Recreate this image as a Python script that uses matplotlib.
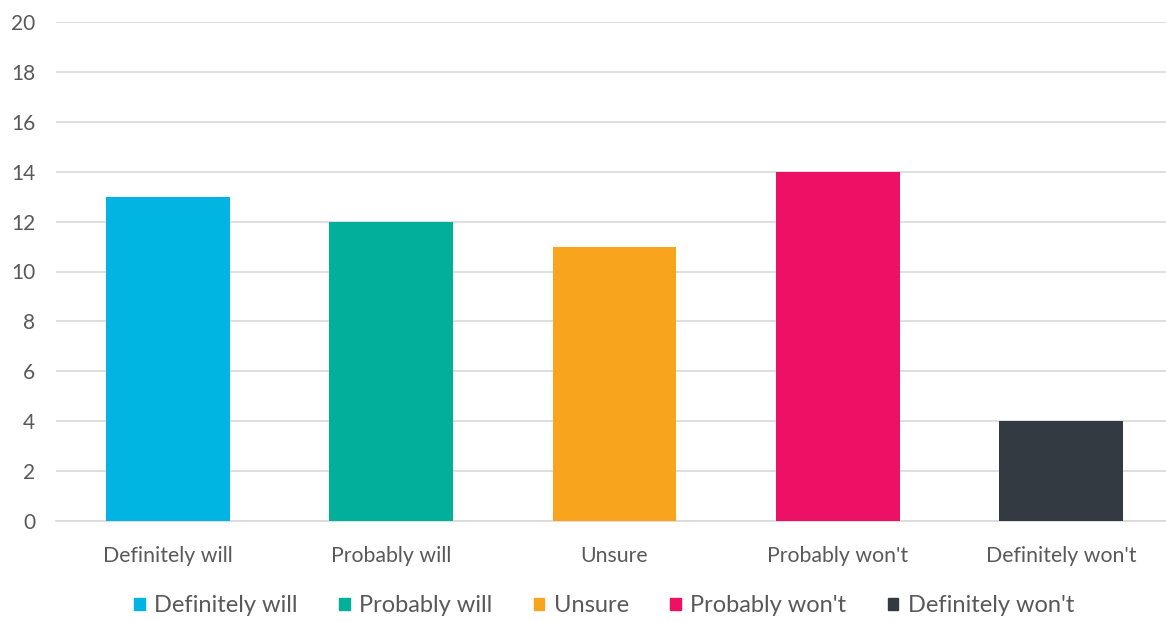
import matplotlib
matplotlib.use('Agg')
import matplotlib.pyplot as plt
import matplotlib.patches as mpatches

categories = ["Definitely will", "Probably will", "Unsure", "Probably won't", "Definitely won't"]
values = [13, 12, 11, 14, 4]
colors = ['#00B5E2', '#00B09B', '#F8A51D', '#EC1164', '#343A42']
yticks = list(range(0, 21, 2))

plt.rcParams['font.family'] = ['Lato', 'DejaVu Sans']
text_color = '#595959'

fig = plt.figure(figsize=(11.66, 6.22), dpi=100)
ax = fig.add_axes([56 / 1166, 1 - 521 / 622, 1117 / 1166, 499 / 622])

x = list(range(len(categories)))
ax.bar(x, values, width=0.555, color=colors, zorder=3)
for xi, v in zip(x, values):
    ax.text(xi, v + 0.3, str(v), ha='center', va='bottom', color='white', fontsize=12, zorder=4)

ax.set_xlim(-0.5, len(categories) - 0.5)
ax.set_ylim(0, 20)
ax.set_yticks(yticks)
ax.set_yticklabels([str(t) for t in yticks], fontsize=15, color=text_color)
ax.set_xticks(x)
ax.set_xticklabels(categories, fontsize=15.3, color=text_color)
ax.tick_params(axis='both', length=0)
ax.tick_params(axis='y', pad=15)
ax.tick_params(axis='x', pad=18)
ax.grid(axis='y', color='#D9D9D9', linewidth=1.2, zorder=0)
for s in ['top', 'right', 'left']:
    ax.spines[s].set_visible(False)
ax.spines['bottom'].set_color('#D9D9D9')
ax.spines['bottom'].set_linewidth(1.2)

handles = [mpatches.Patch(color=c, label=l) for c, l in zip(colors, categories)]
fig.legend(handles=handles, loc='center', bbox_to_anchor=(0.518, 1 - 606 / 622), ncol=5,
           frameon=False, fontsize=17, handlelength=0.45, handleheight=0.45,
           handletextpad=0.4, columnspacing=1.75, labelcolor=text_color)

fig.savefig('out.png', dpi=100)
